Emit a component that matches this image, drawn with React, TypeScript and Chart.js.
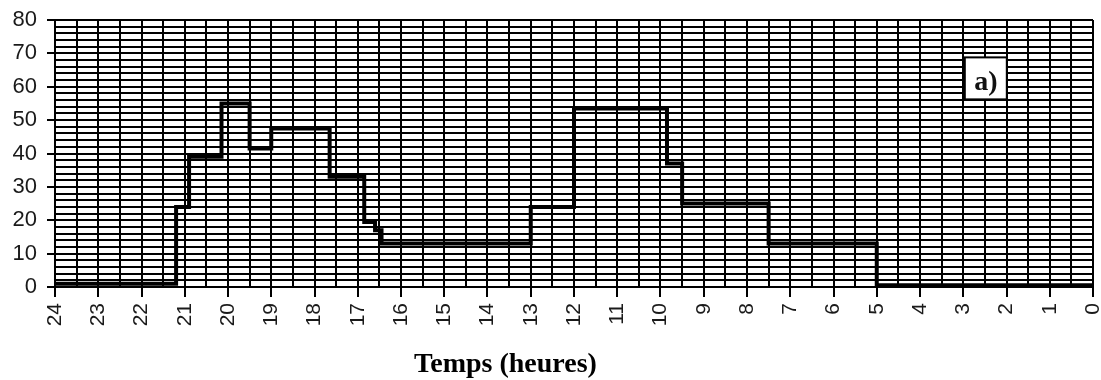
import React, { useEffect, useRef } from "react";
import { Chart, registerables } from "chart.js";

Chart.register(...registerables);

// Step profile, read from hour 24 down to hour 0 (each value holds until the next hour entry)
const HOURS = [24, 21.2, 20.9, 20.15, 19.5, 19.0, 17.65, 16.85, 16.6, 16.45, 13.0, 12.0, 9.85, 9.5, 7.5, 5.0, 0];
const VALUES = [1, 24, 39, 55, 41.5, 47.5, 33, 19.5, 17, 13, 24, 53.5, 37, 25, 13, 0.5, 0.5];

const X_MIN = 0;
const X_MAX = 24;
const Y_MIN = 0;
const Y_MAX = 80;
const X_TITLE = "Temps (heures)";
const PANEL_LABEL = "a)";

const SANS = "'Liberation Sans', Arial, sans-serif";
const SERIF = "'Liberation Serif', 'Times New Roman', serif";

const overlayPlugin = {
  id: "overlay",
  afterDraw(chart: any) {
    const { ctx, chartArea } = chart;
    const w = chartArea.right - chartArea.left;
    const h = chartArea.bottom - chartArea.top;
    ctx.save();
    // panel label box
    const bx = chartArea.left + w * 0.8765;
    const by = chartArea.top + h * 0.14;
    const bw = 42;
    const bh = 42;
    ctx.fillStyle = "#ffffff";
    ctx.fillRect(bx, by, bw, bh);
    ctx.strokeStyle = "#000";
    ctx.lineWidth = 2;
    ctx.strokeRect(bx, by, bw, bh);
    ctx.fillStyle = "#111";
    ctx.font = `bold 28px ${SERIF}`;
    ctx.textAlign = "center";
    ctx.textBaseline = "alphabetic";
    ctx.fillText(PANEL_LABEL, bx + bw / 2, by + 33);
    // axis title
    ctx.font = `bold 28px ${SERIF}`;
    ctx.fillStyle = "#000";
    ctx.textAlign = "center";
    ctx.fillText(X_TITLE, chartArea.left + w * 0.434, 372);
    ctx.restore();
  },
};

export default function App() {
  const ref = useRef<HTMLCanvasElement | null>(null);

  useEffect(() => {
    if (!ref.current) return;
    const data = HOURS.map((h, i) => ({ x: h, y: VALUES[i] }));
    const chart = new Chart(ref.current, {
      type: "line",
      data: {
        datasets: [
          {
            data,
            stepped: true,
            borderColor: "#000",
            borderWidth: 4,
            pointRadius: 0,
            fill: false,
          },
        ],
      },
      options: {
        responsive: false,
        animation: false,
        layout: { padding: { top: 20, right: 8, left: 0, bottom: 0 } },
        plugins: { legend: { display: false }, tooltip: { enabled: false }, title: { display: false } },
        scales: {
          x: {
            type: "linear",
            reverse: true,
            min: X_MIN,
            max: X_MAX,
            afterFit(scale: any) {
              scale.height = 93;
              scale.paddingLeft = 0;
              scale.paddingRight = 0;
            },
            ticks: {
              stepSize: 0.5,
              autoSkip: false,
              minRotation: 90,
              maxRotation: 90,
              padding: 6,
              color: "#1a1a1a",
              font: { family: SANS, size: 21 },
              callback: (v: any) => (Number.isInteger(v) ? String(v) : ""),
            },
            grid: {
              color: "#000",
              lineWidth: 2,
              tickLength: 10,
              tickColor: (c: any) => (c.tick && Number.isInteger(c.tick.value) ? "#000" : "rgba(0,0,0,0)"),
            },
            border: { display: true, color: "#000", width: 2 },
          },
          y: {
            min: Y_MIN,
            max: Y_MAX,
            afterFit(scale: any) {
              scale.width = 55;
              scale.paddingTop = 0;
              scale.paddingBottom = 0;
            },
            ticks: {
              stepSize: 2,
              autoSkip: false,
              padding: 10,
              color: "#1a1a1a",
              font: { family: SANS, size: 22 },
              callback: (v: any) => (v % 10 === 0 ? String(v) : ""),
            },
            grid: {
              color: "#000",
              lineWidth: 2,
              tickLength: 8,
              tickColor: (c: any) => (c.tick && c.tick.value % 10 === 0 ? "#000" : "rgba(0,0,0,0)"),
            },
            border: { display: true, color: "#000", width: 2 },
          },
        },
      },
      plugins: [overlayPlugin],
    });
    return () => chart.destroy();
  }, []);

  return (
    <div style={{ position: "absolute", left: 0, top: 0, width: 1101, height: 380, background: "#fff" }}>
      <canvas ref={ref} width={1101} height={380} style={{ display: "block" }} />
    </div>
  );
}
